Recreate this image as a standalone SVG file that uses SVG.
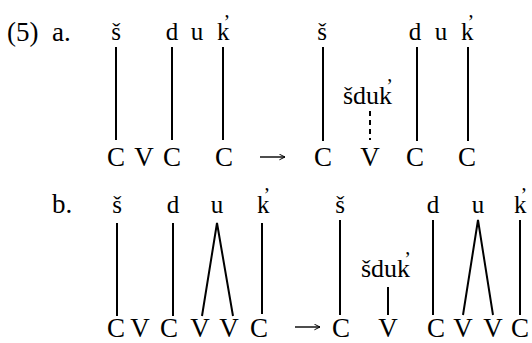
<svg xmlns="http://www.w3.org/2000/svg" width="532" height="343" viewBox="0 0 532 343">
<defs>
<style>
text{font-family:'Liberation Serif','Times New Roman',serif;fill:#000}
.lab{font-size:25px;text-anchor:middle}
.ks{font-size:25px}
.sd{font-size:26px}
.num{font-size:27px}
.cv{font-size:27px;text-anchor:middle}
.ac{font-size:20px}
.ln{stroke:#000;stroke-width:2;fill:none}
.dash{stroke:#000;stroke-width:2;stroke-dasharray:5 4;fill:none}
.arr{stroke:#000;stroke-width:1.4;fill:none}
</style>
<marker id="ah" viewBox="0 0 10 10" refX="9" refY="5" markerWidth="7" markerHeight="7" markerUnits="userSpaceOnUse" orient="auto">
<path d="M1,1 L9,5 L1,9" fill="none" stroke="#000" stroke-width="1.4"/>
</marker>
</defs>
<rect width="532" height="343" fill="#fff"/>
<g id="labels">
<text class="num" x="7" y="41">(5)</text>
<text class="num" x="52" y="41">a.</text>
<text class="num" x="52" y="213">b.</text>
</g>
<g id="a-left">
<text class="lab" x="116" y="40">š</text>
<text class="lab" x="172" y="40">d</text>
<text class="lab" x="197" y="40">u</text>
<text class="ks" x="217" y="40">k<tspan class="ac" dx="-6" dy="-11">’</tspan></text>
<text class="cv" x="116" y="166">C</text>
<text class="cv" x="144" y="166">V</text>
<text class="cv" x="172" y="166">C</text>
<text class="cv" x="224" y="166">C</text>
</g>
<g id="a-right">
<text class="lab" x="322" y="40">š</text>
<text class="lab" x="415" y="40">d</text>
<text class="lab" x="441" y="40">u</text>
<text class="ks" x="461" y="40">k<tspan class="ac" dx="-6" dy="-11">’</tspan></text>
<text class="sd" x="343" y="104">šduk<tspan class="ac" dx="-6" dy="-11">’</tspan></text>
<text class="cv" x="323" y="166">C</text>
<text class="cv" x="370" y="166">V</text>
<text class="cv" x="415" y="166">C</text>
<text class="cv" x="467" y="166">C</text>
</g>
<g id="b-left">
<text class="lab" x="117" y="213">š</text>
<text class="lab" x="173" y="213">d</text>
<text class="lab" x="217" y="213">u</text>
<text class="ks" x="257" y="213">k<tspan class="ac" dx="-6" dy="-11">’</tspan></text>
<text class="cv" x="116" y="337">C</text>
<text class="cv" x="140" y="337">V</text>
<text class="cv" x="169" y="337">C</text>
<text class="cv" x="200" y="337">V</text>
<text class="cv" x="229" y="337">V</text>
<text class="cv" x="259" y="337">C</text>
</g>
<g id="b-right">
<text class="lab" x="340" y="213">š</text>
<text class="lab" x="433" y="213">d</text>
<text class="lab" x="478" y="213">u</text>
<text class="ks" x="514" y="213">k<tspan class="ac" dx="-6" dy="-11">’</tspan></text>
<text class="sd" x="361" y="277">šduk<tspan class="ac" dx="-6" dy="-11">’</tspan></text>
<text class="cv" x="341" y="337">C</text>
<text class="cv" x="388" y="337">V</text>
<text class="cv" x="436" y="337">C</text>
<text class="cv" x="463" y="337">V</text>
<text class="cv" x="493" y="337">V</text>
<text class="cv" x="520" y="337">C</text>
</g>
<g id="connectors">
<line class="ln" x1="116" y1="47" x2="116" y2="140"/>
<line class="ln" x1="172" y1="47" x2="172" y2="140"/>
<line class="ln" x1="223" y1="47" x2="223" y2="140"/>
<line class="arr" x1="260" y1="157" x2="285" y2="157" marker-end="url(#ah)"/>
<line class="ln" x1="323" y1="47" x2="323" y2="141"/>
<line class="dash" x1="370" y1="111" x2="370" y2="140"/>
<line class="ln" x1="417" y1="47" x2="417" y2="141"/>
<line class="ln" x1="468" y1="47" x2="468" y2="141"/>
<line class="ln" x1="117" y1="223" x2="117" y2="316"/>
<line class="ln" x1="173" y1="223" x2="173" y2="316"/>
<polyline class="ln" points="202,316 217,223 233,316"/>
<line class="ln" x1="262" y1="223" x2="262" y2="314"/>
<line class="arr" x1="295" y1="327" x2="320" y2="327" marker-end="url(#ah)"/>
<line class="ln" x1="340" y1="220" x2="340" y2="315"/>
<line class="ln" x1="388" y1="287" x2="388" y2="315"/>
<line class="ln" x1="433" y1="220" x2="433" y2="315"/>
<polyline class="ln" points="463,315 478,220 493,315"/>
<line class="ln" x1="520" y1="220" x2="520" y2="315"/>
</g>
</svg>
